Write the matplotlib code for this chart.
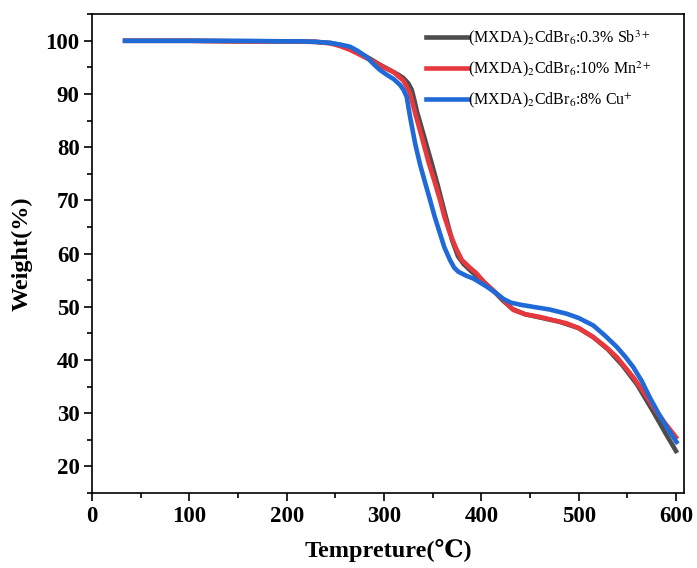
import numpy as np
import matplotlib.pyplot as plt
from matplotlib.ticker import MultipleLocator

plt.rcParams['font.family'] = ['Liberation Serif', 'DejaVu Serif']
plt.rcParams['mathtext.fontset'] = 'stix'

# TGA curves (temperature in C, weight in %)
temp_sb = [34, 100, 150, 200, 230, 245, 255, 265, 275, 285, 295, 306, 315, 320, 325, 328.5,
           331, 334, 340, 349, 355, 362, 370, 376, 382, 390, 400, 412, 422, 432, 445,
           460, 480, 500, 515, 530, 545, 560, 575, 590, 600]
weight_sb = [100, 100, 99.9, 99.9, 99.8, 99.6, 99.2, 98.5, 97.6, 96.7, 95.6, 94.5, 93.6, 93.0, 92.0, 90.8,
             89.0, 86.6, 82.8, 77.0, 73.0, 68.0, 62.5, 59.5, 58.0, 56.6, 55.1, 53.1, 51.2, 49.6, 48.6,
             48.0, 47.2, 46.0, 44.3, 42.0, 39.0, 35.4, 30.8, 26.0, 22.9]

temp_mn = [34, 100, 150, 200, 230, 245, 255, 265, 275, 289, 300, 310, 320, 326.7, 332, 338.7,
           345.6, 352, 357.5, 362, 367.8, 374, 380, 388, 395, 403, 412, 422.6, 433, 445,
           460, 487.7, 500, 515, 527, 539, 556, 566, 576.7, 588, 600]
weight_mn = [100, 100, 99.9, 99.9, 99.8, 99.5, 99.0, 98.3, 97.4, 96.1, 95.0, 94.1, 92.5, 90.2, 86.4, 82.0,
             77.3, 73.5, 70.1, 67.0, 63.8, 61.0, 58.8, 57.4, 56.3, 54.6, 53.1, 51.3, 49.4, 48.6,
             48.1, 46.9, 46.0, 44.3, 42.6, 40.6, 36.8, 34.2, 31.2, 28.3, 25.5]

temp_cu = [34, 100, 150, 200, 214, 230, 245, 255, 265, 273, 282, 290, 296, 303, 310, 316.5,
           320, 323.3, 326.7, 332, 337, 342, 347.3, 352, 357.5, 362, 367.8, 372, 376.3, 385,
           392, 405.5, 415, 422.6, 430, 440, 453, 470, 487.7, 500, 515, 527, 539, 548,
           556, 565, 573, 582, 590.5, 600.5]
weight_cu = [100, 100, 100, 99.9, 99.9, 99.8, 99.6, 99.3, 98.9, 98.1, 97.0, 95.5, 94.5, 93.6, 92.8, 91.7,
             90.8, 89.5, 85.8, 80.7, 76.8, 73.5, 70.1, 67.0, 63.8, 61.2, 58.8, 57.4, 56.6, 55.8,
             55.3, 53.8, 52.6, 51.5, 50.8, 50.4, 50.0, 49.5, 48.7, 47.9, 46.5, 44.6, 42.5, 40.6,
             38.7, 36.0, 33.0, 30.0, 27.4, 24.6]

labels = [r'(MXDA)$_2$CdBr$_6$:0.3% Sb$^{3+}$',
          r'(MXDA)$_2$CdBr$_6$:10% Mn$^{2+}$',
          r'(MXDA)$_2$CdBr$_6$:8% Cu$^{+}$']
colors = ['#4d4d4d', '#e8383d', '#1f6ad6']

fig = plt.figure(figsize=(6.97, 5.68), dpi=100)
ax = fig.add_axes([0.132, 0.132, 0.849, 0.843])

ax.plot(temp_sb, weight_sb, color=colors[0], lw=3.3, label=labels[0], solid_joinstyle='round')
ax.plot(temp_mn, weight_mn, color=colors[1], lw=3.3, label=labels[1], solid_joinstyle='round')
ax.plot(temp_cu, weight_cu, color=colors[2], lw=3.3, label=labels[2], solid_joinstyle='round')

ax.set_xlim(0, 608)
ax.set_ylim(15, 105)
ax.xaxis.set_major_locator(MultipleLocator(100))
ax.xaxis.set_minor_locator(MultipleLocator(50))
ax.yaxis.set_minor_locator(MultipleLocator(5))
ax.set_yticks(range(20, 101, 10))
ax.tick_params(which='major', direction='out', length=6, width=1.2, labelsize=16.5, pad=3)
ax.tick_params(which='minor', direction='out', length=3.5, width=1.2)
for lab in ax.get_xticklabels() + ax.get_yticklabels():
    lab.set_fontweight('bold')
for sp in ax.spines.values():
    sp.set_linewidth(1.2)

ax.set_xlabel('Tempreture(℃)', fontsize=17.5, fontweight='bold', labelpad=9)
ax.set_ylabel('Weight(%)', fontsize=17.5, fontweight='bold', labelpad=9)

ax.legend(loc='upper right', bbox_to_anchor=(0.97, 1.0), frameon=False, fontsize=11.5,
          handlelength=2.6, handletextpad=0.0, labelspacing=0.7)

fig.savefig('out.png', dpi=100)
